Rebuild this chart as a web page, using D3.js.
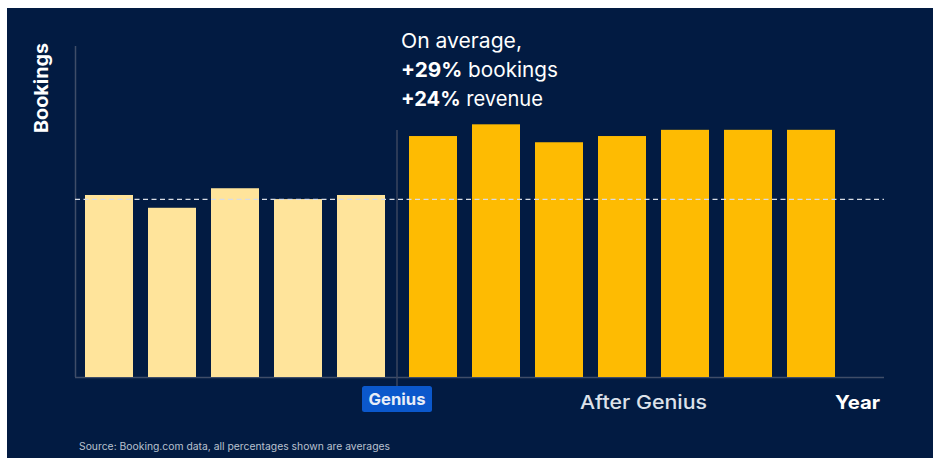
<!DOCTYPE html>
<html>
<head>
<meta charset="utf-8">
<script src="https://cdn.jsdelivr.net/npm/d3@7"></script>
<style>
  html, body { margin: 0; padding: 0; background: #ffffff; }
  svg { display: block; }
</style>
</head>
<body>
<svg id="chart" width="933" height="458"></svg>
<script>
// ---- data ----
const beforeYears = ["B1", "B2", "B3", "B4", "B5"];
const beforeValues = [102.5, 95.3, 106.3, 100.2, 102.5];
const afterYears = ["A1", "A2", "A3", "A4", "A5", "A6", "A7"];
const afterValues = [135.7, 142.3, 132.2, 135.7, 139.2, 139.2, 139.2];
const referenceValue = 100;
const yMax = 186.4;
const annotationLines = [
  [{ t: "On average,", b: false }],
  [{ t: "+29%", b: true }, { t: " bookings", b: false }],
  [{ t: "+24%", b: true }, { t: " revenue", b: false }]
];
const yAxisLabel = "Bookings";
const xAxisLabel = "Year";
const beforeLabel = "Genius";
const afterLabel = "After Genius";
const sourceText = "Source: Booking.com data, all percentages shown are averages";

// ---- drawing ----
const svg = d3.select("#chart");
const FONT = "Inter, Roboto, 'Liberation Sans', Arial, sans-serif";

svg.append("rect").attr("x", 7).attr("y", 8).attr("width", 926).attr("height", 450).attr("fill", "#021b42");

const y = d3.scaleLinear().domain([0, yMax]).range([377, 46]);
const xBefore = d3.scaleBand().domain(beforeYears).range([77.5, 392.5]).paddingInner(15 / 63).paddingOuter(7.5 / 63);
const xAfter = d3.scaleBand().domain(afterYears).range([401.5, 842.5]).paddingInner(15 / 63).paddingOuter(7.5 / 63);

// axes lines
const axisColor = "#3f4d68";
svg.append("line").attr("x1", 75.5).attr("x2", 75.5).attr("y1", y(yMax)).attr("y2", y(0))
  .attr("stroke", axisColor).attr("stroke-width", 1.5);
svg.append("line").attr("x1", 75).attr("x2", 884).attr("y1", y(0) + 0.5).attr("y2", y(0) + 0.5)
  .attr("stroke", axisColor).attr("stroke-width", 1.5);

// divider
svg.append("line").attr("x1", 397).attr("x2", 397).attr("y1", 130).attr("y2", 386)
  .attr("stroke", "#3a465f").attr("stroke-width", 1.5);

// bars
svg.append("g").selectAll("rect").data(beforeYears).join("rect")
  .attr("x", d => xBefore(d)).attr("width", xBefore.bandwidth())
  .attr("y", (d, i) => y(beforeValues[i])).attr("height", (d, i) => y(0) - y(beforeValues[i]))
  .attr("fill", "#ffe49b");
svg.append("g").selectAll("rect").data(afterYears).join("rect")
  .attr("x", d => xAfter(d)).attr("width", xAfter.bandwidth())
  .attr("y", (d, i) => y(afterValues[i])).attr("height", (d, i) => y(0) - y(afterValues[i]))
  .attr("fill", "#febb02");

// reference dashed line
svg.append("line").attr("x1", 75).attr("x2", 884).attr("y1", y(referenceValue)).attr("y2", y(referenceValue))
  .attr("stroke", "#d8dce4").attr("stroke-width", 1.2).attr("stroke-dasharray", "5,3.5");

// y label
svg.append("text").attr("transform", "translate(47.5,88) rotate(-90)")
  .attr("x", -45).attr("textLength", 90).attr("lengthAdjust", "spacingAndGlyphs")
  .attr("fill", "#ffffff")
  .attr("font-family", FONT).attr("font-weight", 700).attr("font-size", 19)
  .text(yAxisLabel);

// annotation
const annWidths = [121, 157, 142];
annotationLines.forEach((line, i) => {
  const t = svg.append("text").attr("font-family", FONT).attr("font-size", 20.5).attr("fill", "#ffffff")
    .attr("x", 401).attr("y", 47.5 + i * 29.3)
    .attr("textLength", annWidths[i]).attr("lengthAdjust", "spacingAndGlyphs");
  line.forEach(seg => {
    t.append("tspan").text(seg.t).attr("font-weight", seg.b ? 700 : 400);
  });
});

// genius badge
svg.append("rect").attr("x", 362).attr("y", 386).attr("width", 70).attr("height", 26).attr("rx", 2.5)
  .attr("fill", "#0b58cc");
svg.append("text").attr("x", 368.5).attr("y", 405).attr("textLength", 57).attr("lengthAdjust", "spacingAndGlyphs")
  .attr("font-family", FONT).attr("font-weight", 700).attr("font-size", 16.5).attr("fill", "#e8eef8")
  .text(beforeLabel);

// after label
svg.append("text").attr("x", 580).attr("y", 408.5).attr("textLength", 127).attr("lengthAdjust", "spacingAndGlyphs")
  .attr("font-family", FONT).attr("font-weight", 500).attr("font-size", 18.5).attr("fill", "#dde2ea")
  .text(afterLabel);

// x label
svg.append("text").attr("x", 835).attr("y", 408.5).attr("textLength", 45).attr("lengthAdjust", "spacingAndGlyphs")
  .attr("font-family", FONT).attr("font-weight", 700).attr("font-size", 18.5).attr("fill", "#ffffff")
  .text(xAxisLabel);

// source
svg.append("text").attr("x", 79).attr("y", 450).attr("textLength", 311).attr("lengthAdjust", "spacingAndGlyphs")
  .attr("font-family", FONT).attr("font-size", 10).attr("fill", "#b9c1cf").text(sourceText);
</script>
</body>
</html>
